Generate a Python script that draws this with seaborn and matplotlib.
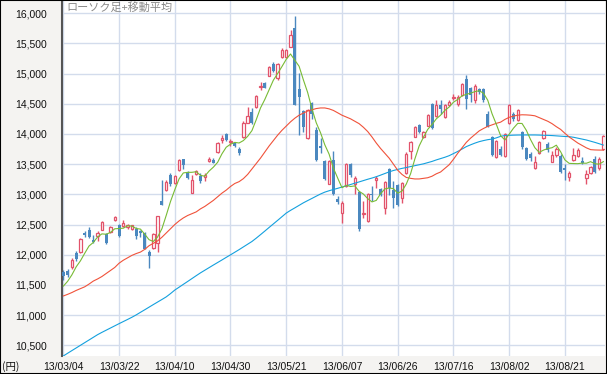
import matplotlib
matplotlib.use('Agg')
import matplotlib.pyplot as plt
from matplotlib.patches import Rectangle
import numpy as np
import pandas as pd
import seaborn as sns

# daily candles 2013-03-04 .. 2013-09-03
open_ = [11716, 11730, 11790, 12022, 12044, 12367, 12417, 12239, 12311, 12417,
         12350, 12378, 12578, 12489, 12478, 12461, 12428, 12433, 12389, 12361,
         12044, 12120, 12194, 12893, 13074, 13322, 13185, 13405, 13587, 13367,
         13029, 13334, 13305, 13284, 13549, 13565, 13698, 13902, 14001, 13869,
         13847, 13748, 13944, 14189, 14367, 14444, 14778, 14844, 14967, 15156,
         14922, 15267, 15267, 15444, 15750, 14739, 14372, 13933, 14511, 14072,
         13805, 13555, 13178, 13567, 12917, 12689, 13139, 13500, 13178, 13033,
         12667, 12567, 13006, 13239, 13083, 12767, 13417, 13078, 13156, 12944,
         13361, 13722, 13956, 14156, 13956, 14139, 14500, 14289, 14472, 14278,
         14472, 14594, 14489, 14639, 14917, 14767, 14556, 14750, 14750, 14333,
         13956, 13611, 13744, 13639, 14178, 14333, 14233, 14028, 13767, 13672,
         13444, 13678, 13933, 13833, 13539, 13656, 13639, 13428, 13289, 13572,
         13639, 13556, 13278, 13361, 13578, 13444, 13750]
high = [11740, 11760, 11945, 12055, 12278, 12400, 12456, 12322, 12400, 12567,
        12361, 12478, 12644, 12506, 12572, 12511, 12500, 12456, 12417, 12372,
        12083, 12356, 12650, 13240, 13230, 13350, 13322, 13580, 13592, 13389,
        13322, 13400, 13350, 13350, 13617, 13606, 13861, 13983, 14011, 13911,
        13872, 13783, 14211, 14444, 14433, 14639, 14861, 14861, 15128, 15189,
        15178, 15417, 15400, 15722, 15950, 15011, 14389, 14417, 14528, 14111,
        13933, 13567, 13567, 13722, 12972, 12889, 13511, 13511, 13300, 13056,
        12889, 13028, 13139, 13306, 13111, 13222, 13428, 13222, 13178, 13211,
        13694, 13889, 14133, 14167, 14056, 14333, 14511, 14556, 14556, 14489,
        14567, 14667, 14639, 14844, 14972, 14778, 14833, 14767, 14767, 14378,
        13972, 13900, 13806, 14011, 14489, 14361, 14417, 14044, 13789, 13694,
        13639, 13889, 14067, 13861, 13722, 13778, 13667, 13500, 13389, 13767,
        13767, 13622, 13400, 13472, 13633, 13611, 13978]
low = [11590, 11630, 11770, 11900, 12033, 12289, 12278, 12194, 12222, 12406,
       12183, 12367, 12556, 12300, 12461, 12433, 12411, 12256, 12289, 12089,
       11778, 12100, 12044, 12820, 13060, 13140, 13173, 13394, 13416, 13256,
       13017, 13322, 13195, 13217, 13533, 13517, 13689, 13845, 13889, 13806,
       13778, 13645, 13933, 14178, 14167, 14433, 14733, 14756, 14956, 15033,
       14889, 15256, 15256, 15433, 14480, 13983, 14028, 13922, 14250, 13544,
       13678, 13233, 13167, 12989, 12833, 12528, 13128, 13294, 13000, 12389,
       12611, 12544, 12889, 13100, 12972, 12678, 12989, 12778, 12806, 12861,
       13344, 13583, 13944, 14020, 13933, 14128, 14089, 14278, 14333, 14267,
       14456, 14556, 14456, 14628, 14417, 14528, 14511, 14667, 14528, 14111,
       13633, 13594, 13639, 13622, 14167, 14222, 14222, 13750, 13567, 13544,
       13417, 13667, 13917, 13694, 13528, 13611, 13361, 13233, 13222, 13556,
       13611, 13500, 13178, 13344, 13361, 13400, 13739]
close = [11650, 11668, 11915, 11933, 12267, 12322, 12294, 12205, 12367, 12544,
         12194, 12461, 12622, 12311, 12533, 12489, 12489, 12306, 12367, 12100,
         11983, 12340, 12640, 12826, 13212, 13173, 13305, 13570, 13493, 13278,
         13240, 13389, 13228, 13328, 13587, 13526, 13847, 13940, 13902, 13885,
         13802, 13692, 14189, 14289, 14178, 14622, 14789, 14767, 15111, 15044,
         15156, 15389, 15389, 15639, 14483, 14611, 14122, 14389, 14333, 13572,
         13761, 13250, 13555, 13000, 12867, 12861, 13500, 13322, 13278, 12428,
         12689, 13011, 12994, 13278, 12989, 13206, 13111, 12944, 12817, 13194,
         13667, 13861, 14111, 14040, 14028, 14317, 14100, 14472, 14406, 14472,
         14528, 14611, 14611, 14833, 14583, 14639, 14789, 14694, 14556, 14122,
         13650, 13889, 13656, 14000, 14472, 14250, 14400, 13778, 13583, 13600,
         13528, 13861, 14056, 13733, 13656, 13750, 13378, 13406, 13356, 13650,
         13733, 13522, 13333, 13456, 13378, 13578, 13967]

# moving averages as drawn (5 / 25 / 75 days)
ma5 = [11480, 11560, 11667, 11800, 11900, 12025, 12145, 12204, 12295, 12346,
       12340, 12370, 12430, 12435, 12440, 12480, 12475, 12435, 12425, 12340,
       12250, 12220, 12295, 12430, 12650, 12880, 13075, 13255, 13355, 13364,
       13365, 13375, 13315, 13300, 13385, 13450, 13530, 13670, 13780, 13830,
       13860, 13850, 13890, 13960, 14055, 14235, 14430, 14570, 14730, 14890,
       15000, 15115, 15235, 15323, 15220, 15120, 14895, 14685, 14415, 14185,
       14020, 13820, 13665, 13435, 13270, 13110, 13150, 13130, 13140, 13050,
       13005, 12930, 12875, 12900, 13010, 13090, 13105, 13095, 13020, 13054,
       13170, 13340, 13585, 13800, 13945, 14075, 14155, 14250, 14310, 14390,
       14445, 14525, 14570, 14630, 14655, 14675, 14700, 14715, 14675, 14558,
       14335, 14160, 13973, 13900, 13995, 14095, 14175, 14173, 14060, 13905,
       13772, 13695, 13732, 13758, 13772, 13814, 13705, 13570, 13513, 13510,
       13508, 13517, 13515, 13541, 13506, 13500, 13543]
ma25 = [11318, 11345, 11375, 11410, 11440, 11470, 11515, 11565, 11600, 11640,
        11690, 11740, 11790, 11860, 11910, 11950, 11990, 12020, 12045, 12090,
        12150, 12190, 12230, 12290, 12360, 12430, 12500, 12560, 12610, 12650,
        12680, 12710, 12760, 12800, 12850, 12900, 12960, 13020, 13070, 13130,
        13180, 13210, 13260, 13330, 13420, 13510, 13600, 13700, 13800, 13890,
        13980, 14060, 14130, 14200, 14260, 14310, 14345, 14380, 14400, 14420,
        14430, 14430, 14415, 14389, 14350, 14310, 14280, 14250, 14210, 14170,
        14110, 14040, 13950, 13850, 13760, 13680, 13600, 13500, 13400, 13330,
        13280, 13265, 13255, 13255, 13265, 13275, 13300, 13340, 13370, 13430,
        13490, 13580, 13680, 13770, 13860, 13930, 13990, 14050, 14090, 14125,
        14150, 14175, 14195, 14240, 14275, 14295, 14310, 14317, 14315, 14310,
        14300, 14270, 14240, 14210, 14170, 14120, 14075, 14010, 13950, 13900,
        13850, 13810, 13770, 13740, 13735, 13733, 13733]
ma75 = [10325, 10370, 10414, 10458, 10502, 10546, 10590, 10634, 10678, 10716,
        10752, 10788, 10824, 10860, 10895, 10930, 10966, 11005, 11048, 11090,
        11133, 11176, 11218, 11260, 11303, 11357, 11416, 11463, 11511, 11558,
        11606, 11654, 11701, 11744, 11787, 11830, 11872, 11914, 11957, 11999,
        12042, 12085, 12130, 12175, 12220, 12275, 12333, 12392, 12452, 12511,
        12570, 12630, 12690, 12735, 12776, 12818, 12860, 12897, 12933, 12970,
        13006, 13037, 13060, 13080, 13100, 13121, 13142, 13163, 13185, 13206,
        13228, 13250, 13270, 13292, 13318, 13345, 13372, 13395, 13413, 13430,
        13444, 13460, 13475, 13490, 13505, 13525, 13545, 13570, 13592, 13614,
        13640, 13675, 13710, 13750, 13790, 13820, 13848, 13872, 13890, 13905,
        13915, 13935, 13960, 13974, 13977, 13980, 13982, 13983, 13983, 13983,
        13983, 13981, 13978, 13976, 13973, 13968, 13963, 13958, 13955, 13945,
        13930, 13915, 13900, 13880, 13860, 13838, 13815]

tick_labels = ['13/03/04', '13/03/22', '13/04/10', '13/04/30', '13/05/21',
               '13/06/07', '13/06/26', '13/07/16', '13/08/02', '13/08/21']

up_col = '#e2536b'
dn_col = '#4b88bf'

df = pd.DataFrame({'open': open_, 'high': high, 'low': low, 'close': close,
                   'ma5': ma5, 'ma25': ma25, 'ma75': ma75})
df['day'] = np.arange(len(df))
up = df['close'] >= df['open']

sns.set_style('white')
plt.rcParams['font.family'] = ['Liberation Sans', 'Noto Sans CJK JP', 'DejaVu Sans']

fig = plt.figure(figsize=(6.07, 3.74), dpi=100, facecolor='#f4f3f1')
ax = fig.add_axes([62 / 607, 18 / 374, 543 / 607, 355 / 374])
ax.set_facecolor('white')

# wicks
ax.vlines(df.loc[up, 'day'], df.loc[up, 'low'], df.loc[up, 'high'], color=up_col, lw=1, zorder=2)
ax.vlines(df.loc[~up, 'day'], df.loc[~up, 'low'], df.loc[~up, 'high'], color=dn_col, lw=1, zorder=2)
# bodies
ax.bar(df.loc[up, 'day'], (df['close'] - df['open'])[up].clip(lower=15), bottom=df.loc[up, 'open'],
       width=0.55, facecolor='white', edgecolor=up_col, lw=0.9, zorder=3)
ax.bar(df.loc[~up, 'day'], (df['open'] - df['close'])[~up].clip(lower=15), bottom=df.loc[~up, 'close'],
       width=0.7, color=dn_col, lw=0, zorder=3)

# moving averages
sns.lineplot(data=df, x='day', y='ma75', color='#13a0de', lw=0.8, ax=ax, zorder=4)
sns.lineplot(data=df, x='day', y='ma25', color='#f0523a', lw=0.8, ax=ax, zorder=4)
sns.lineplot(data=df, x='day', y='ma5', color='#78bb35', lw=0.8, ax=ax, zorder=4)

yt = np.arange(10500, 16001, 500)
ax.set_yticks(yt)
ax.set_yticklabels([f'{v:,}' for v in yt])
ax.set_xticks(df['day'][::13][:len(tick_labels)])
ax.set_xticklabels(tick_labels)
ax.set_xlim(-0.3, 126.35)
ax.set_ylim(10325, 16200)
ax.set_xlabel('')
ax.set_ylabel('')
ax.grid(True, color='#d3dcec', lw=1)
ax.set_axisbelow(True)
ax.tick_params(axis='y', length=0, pad=11, labelsize=7.5, labelcolor='#111111')
ax.tick_params(axis='x', length=0, pad=4, labelsize=7.5, labelcolor='#111111')
for s in ['top', 'right', 'bottom']:
    ax.spines[s].set_visible(False)
ax.spines['left'].set_color('#555555')
ax.spines['left'].set_linewidth(1.5)

ax.text(0.008, 0.982, 'ローソク足+移動平均', transform=ax.transAxes, va='center', ha='left',
        fontsize=8, color='#8a8a8a', family=['Noto Sans CJK JP', 'DejaVu Sans'])
fig.text(2 / 607, 1 - 367 / 374, '(円)', va='center', ha='left', fontsize=7.5,
         color='#111111', family=['Noto Sans CJK JP', 'DejaVu Sans'])

fig.patches.append(Rectangle((0, 0), 1, 1, transform=fig.transFigure, fill=False,
                             edgecolor='black', lw=1.5))

fig.savefig('out.png', dpi=100, facecolor=fig.get_facecolor())
